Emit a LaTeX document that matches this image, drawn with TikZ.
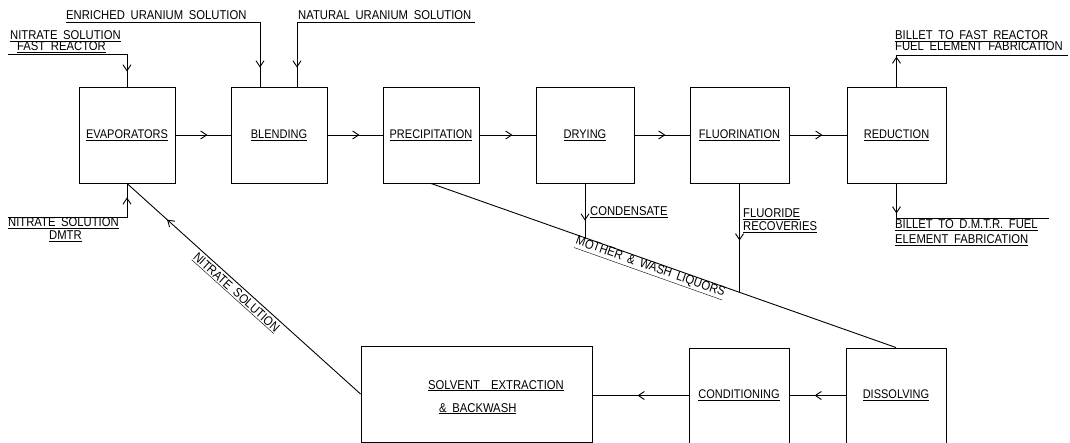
\documentclass[tikz,border=0pt]{standalone}
\usepackage{fontspec}
\setmainfont{Liberation Sans}[FakeStretch=0.88,WordSpace=1.8]
\usetikzlibrary{arrows.meta,decorations.markings}
\tikzset{
  box/.style={draw, line width=0.9pt, minimum width=96pt, minimum height=96pt, inner sep=1pt, font=\fontsize{12.5}{13}\selectfont},
  flow/.style={draw, line width=0.9pt},
  tipat/.style={postaction={decorate, decoration={markings, mark=at position #1 with {\arrow{Straight Barb[length=6pt,width=8pt,line width=0.9pt]}}}}},
  lbl/.style={font=\fontsize{12.8}{13}\selectfont, inner sep=0pt},
}
\begin{document}
\begin{tikzpicture}[x=1pt,y=-1pt]
\useasboundingbox (0,0) rectangle (1070,443);
% process boxes
\node[box] (evap) at (127,135) {\underline{EVAPORATORS}};
\node[box] (blend) at (279,135) {\underline{BLENDING}};
\node[box] (precip) at (431,135) {\underline{PRECIPITATION}};
\node[box, minimum width=98pt] (dry) at (585,135) {\underline{DRYING}};
\node[box, minimum width=99pt] (fluor) at (739.5,135) {\underline{FLUORINATION}};
\node[box, minimum width=99pt] (red) at (896.5,135) {\underline{REDUCTION}};
\node[box, minimum width=231pt, minimum height=96pt] (solv) at (476.5,394) {};
\node[box, minimum width=100pt, minimum height=95pt] (cond) at (739,395.5) {\underline{CONDITIONING}};
\node[box, minimum width=100pt, minimum height=95pt] (diss) at (896,395.5) {\underline{DISSOLVING}};
\node[lbl, anchor=base west] (tSe) at (428,389) {\underline{SOLVENT\ \ EXTRACTION}};
\node[lbl, anchor=base west] (tBw) at (439,412) {\underline{\& BACKWASH}};
% main flow
\draw[flow,tipat=32pt] (evap.east) -- (blend.west);
\draw[flow,tipat=32pt] (blend.east) -- (precip.west);
\draw[flow,tipat=33pt] (precip.east) -- (dry.west);
\draw[flow,tipat=31pt] (dry.east) -- (fluor.west);
\draw[flow,tipat=33pt] (fluor.east) -- (red.west);
\draw[flow,tipat=31pt] (diss.west) -- (cond.east);
\draw[flow,tipat=51pt] (cond.west) -- (solv.east |- cond.west);
\draw[flow,tipat=-54pt] (solv.west) -- (evap.south);
% liquors
\coordinate (cj) at (585,237.6);
\coordinate (fj) at (739.5,292.5);
\draw[flow] (precip.south) -- (diss.north);
\draw[flow,tipat=-17pt] (dry.south) -- (cj);
\draw[flow,tipat=-52pt] (fluor.south) -- (fj);
% inputs
\coordinate (en) at (66,22);
\coordinate (enc) at (260,22);
\coordinate (na) at (475,22);
\coordinate (nac) at (297,22);
\coordinate (nf) at (8,54);
\coordinate (nd) at (8,217);
\draw[flow,tipat=-19pt] (en) -- (enc) -- (enc |- blend.north);
\draw[flow,tipat=-19pt] (na) -- (nac) -- (nac |- blend.north);
\draw[flow,tipat=-15pt] (nf) -- (nf -| evap.north) -- (evap.north);
\draw[flow,tipat=-14pt] (nd) -- (nd -| evap.south) -- (evap.south);
% outputs
\coordinate (bf) at (1068,55);
\coordinate (bd) at (1049,218);
\draw[flow,tipat=30pt] (red.north) -- (red.north |- bf) -- (bf);
\draw[flow,tipat=30pt] (red.south) -- (red.south |- bd) -- (bd);
% labels
\node[lbl, anchor=base west] (tEn) at (66,20) {ENRICHED URANIUM SOLUTION};
\node[lbl, anchor=base west] (tNa) at (298,20) {NATURAL URANIUM SOLUTION};
\node[lbl, anchor=base west] (tNf1) at (10,40) {\underline{NITRATE SOLUTION}};
\node[lbl, anchor=base west] (tNf2) at (17,51) {\underline{FAST REACTOR}};
\node[lbl, anchor=base west] (tNd1) at (8,227) {\underline{NITRATE SOLUTION}};
\node[lbl, anchor=base west] (tNd2) at (49,240) {\underline{DMTR}};
\node[lbl, anchor=base west] (tBf1) at (895,40) {\underline{BILLET TO FAST REACTOR}};
\node[lbl, anchor=base west] (tBf2) at (895,51) {FUEL ELEMENT FABRICATION};
\node[lbl, anchor=base west] (tBd1) at (895,229) {\underline{BILLET TO D.M.T.R. FUEL}};
\node[lbl, anchor=base west] (tBd2) at (895,244) {\underline{ELEMENT FABRICATION}};
\node[lbl, anchor=base west] (tFl1) at (743,218) {\underline{FLUORIDE}};
\node[lbl, anchor=base west] (tFl2) at (743,231) {\underline{RECOVERIES}};
\node[lbl, anchor=base west] (tCo) at (590,216) {\underline{CONDENSATE}};
\node[lbl, rotate=-42] (tNs) at (236,293) {\underline{NITRATE SOLUTION}};
\node[lbl, rotate=-19.5] (tMw) at (650,268) {\underline{MOTHER \& WASH LIQUORS}};
\end{tikzpicture}
\end{document}
